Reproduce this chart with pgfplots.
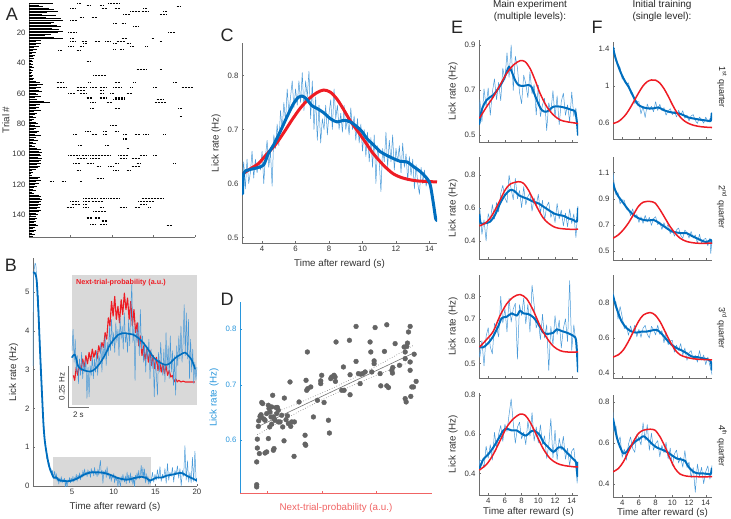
\documentclass[border=0pt]{standalone}
\usepackage{fontspec}
\setmainfont{Liberation Sans}
\usepackage{pgfplots}
\pgfplotsset{compat=1.18}
\usepackage{pgfplotstable}
\definecolor{thinb}{RGB}{72,153,216}
\definecolor{thickb}{RGB}{0,110,190}
\definecolor{myred}{RGB}{238,28,36}
\definecolor{bggray}{RGB}{217,217,217}
\definecolor{axc}{RGB}{110,110,110}
\definecolor{tlc}{RGB}{50,50,50}
\definecolor{dblue}{RGB}{40,150,220}
\definecolor{dred}{RGB}{240,100,100}
\definecolor{dgray}{RGB}{100,100,100}
\pgfplotsset{
 base/.style={scale only axis, anchor=south west, axis lines=left,
   axis line style={-, draw=axc, line width=0.45pt}, tick align=inside,
   major tick length=2.2pt, tick style={draw=axc, line width=0.45pt},
   tick label style={font=\fontsize{7.8}{8}\selectfont, text=tlc},
   label style={font=\fontsize{9.8}{10}\selectfont, text=tlc},
   /pgf/number format/assume math mode=true, enlargelimits=false},
 thinl/.style={color=thinb, line width=0.5pt, line join=round},
 thickl/.style={color=thickb, line width=2pt, smooth, line join=round, line cap=round},
 redl/.style={color=myred, line width=1.5pt, smooth},
 ef/.style={base, width=99pt, height=102pt, xmin=2.9, xmax=14.75, xtick={4,6,8,10,12,14}, xticklabels={}},
}
\pgfplotstableread{
t v
0.30 3.10
0.35 5.40
0.45 5.60
0.55 5.75
0.65 5.70
0.75 5.30
0.85 4.60
0.95 4.90
1.05 4.10
1.15 3.60
1.25 3.10
1.35 2.60
1.45 2.10
1.55 1.70
1.65 1.40
1.75 1.10
1.85 0.95
1.95 0.70
2.05 0.75
2.15 0.50
2.25 0.60
2.35 0.40
2.45 0.45
2.55 0.30
2.65 0.40
2.75 0.22
2.8 0.25
2.9 0.38
3.0 0.18
3.1 0.32
3.2 0.12
3.3 0.22
3.4 0.05
3.5 0.20
3.6 0.10
3.7 0.24
3.8 0.08
3.9 0.18
4.0 0.12
4.1 0.20
4.2 -0.04
4.3 0.15
4.4 -0.03
4.5 0.16
4.6 0.10
4.7 0.22
4.8 0.08
4.9 0.20
5.0 0.12
5.1 0.25
5.2 0.10
5.3 0.22
5.4 0.18
5.5 0.30
5.6 0.12
5.7 0.28
5.8 0.20
5.9 0.34
6.0 0.16
6.1 0.30
6.2 0.22
6.3 0.40
6.4 0.25
6.5 0.44
6.6 0.28
6.7 0.36
6.8 0.24
6.9 0.42
7.0 0.30
7.1 0.38
7.2 0.22
7.3 0.45
7.4 0.32
7.5 0.40
7.6 0.26
7.7 0.48
7.8 0.30
7.9 0.36
8.0 0.24
8.1 0.44
8.2 0.28
8.3 0.50
8.4 0.66
8.5 0.30
8.6 0.40
8.7 0.07
8.8 0.38
8.9 0.30
9.0 0.42
9.1 0.22
9.2 0.50
9.3 0.26
9.4 0.34
9.5 0.18
9.6 0.30
9.7 0.12
9.8 0.28
9.9 0.20
10.0 0.32
10.1 0.08
10.2 0.26
10.3 0.14
10.4 0.22
10.5 -0.03
10.6 0.20
10.7 0.10
10.8 -0.02
10.9 0.24
11.0 0.12
11.1 0.30
11.2 0.18
11.3 0.10
11.4 0.26
11.5 0.06
11.6 0.36
11.7 0.14
11.8 0.28
11.9 0.08
12.0 0.34
12.1 0.12
12.2 0.25
12.3 0.04
12.4 0.22
12.5 -0.02
12.6 0.28
12.7 0.16
12.8 0.34
12.9 0.20
13.0 0.40
13.1 0.18
13.2 0.30
13.3 0.53
13.4 0.22
13.5 0.48
13.6 0.20
13.7 0.44
13.8 0.08
13.9 0.32
14.0 0.12
14.1 0.26
14.2 0.05
14.3 0.18
14.4 0.07
14.5 0.15
14.65 0.35
14.8 0.10
14.95 0.30
15.1 0.15
15.25 0.42
15.4 0.18
15.55 0.50
15.7 0.12
15.85 0.30
16.0 0.20
16.15 0.45
16.3 0.07
16.45 0.58
16.6 0.15
16.75 0.35
16.9 0.25
17.05 0.48
17.2 0.10
17.35 0.40
17.5 0.30
17.65 0.52
17.8 0.20
17.95 0.45
18.1 0.0
18.25 0.40
18.4 0.25
18.55 1.04
18.7 0.15
18.85 0.65
19.0 0.10
19.15 0.35
19.3 0.08
19.45 0.74
19.6 0.12
19.75 0.90
19.9 0.10
20.0 0.20
}\Bthin
\pgfplotstableread{
t v
0.30 5.50
0.50 5.50
0.74 5.31
0.94 4.54
1.14 3.51
1.34 2.56
1.55 1.62
1.70 1.20
1.87 0.93
2.15 0.59
2.40 0.40
2.60 0.30
2.80 0.21
3.08 0.225
3.39 0.154
3.86 0.133
4.48 0.123
4.95 0.138
5.42 0.174
5.89 0.225
6.36 0.286
6.83 0.327
7.14 0.347
7.61 0.357
8.08 0.353
8.55 0.347
9.02 0.327
9.49 0.296
9.96 0.255
10.42 0.211
10.89 0.184
11.52 0.164
11.98 0.174
12.45 0.205
12.92 0.225
13.39 0.239
13.70 0.219
14.01 0.194
14.32 0.140
14.60 0.16
15.20 0.22
15.80 0.22
16.40 0.27
17.20 0.30
18.00 0.34
18.50 0.30
18.80 0.26
19.40 0.20
20.00 0.14
}\Bthick
\begin{document}
\begin{tikzpicture}
\useasboundingbox (0,0) rectangle (731pt,-519pt);
% ---------------- A ----------------
\begin{axis}[base, at={(29pt,-237pt)}, width=166pt, height=234pt,
  xmin=0, xmax=20, ymin=-154.5, ymax=-0.5, xtick={0,5,10,15,20}, xticklabels={},
  ytick={-140,-120,-100,-80,-60,-40,-20}, yticklabels={140,120,100,80,60,40,20},
  ylabel={Trial \#}, ylabel shift=-4pt]
\addplot[xcomb, black, line width=0.95pt] table[row sep=\\] {x y\\
2.9 -1\\ 1.2 -2\\ 1.7 -3\\ 2.4 -4\\ 3.0 -5\\ 3.5 -6\\ 2.2 -7\\ 1.6 -8\\ 3.2 -9\\ 2.0 -10\\
3.8 -11\\ 4.1 -12\\ 3.0 -13\\ 2.6 -14\\ 3.4 -15\\ 3.9 -16\\ 2.8 -17\\ 3.6 -18\\ 4.1 -19\\ 3.5 -20\\
2.7 -21\\ 1.9 -22\\ 3.0 -23\\ 4.1 -24\\ 1.5 -25\\ 0.9 -26\\ 1.4 -27\\ 0.8 -28\\ 1.2 -29\\ 0.6 -30\\
1.0 -31\\ 0.5 -32\\ 0.8 -33\\ 0.4 -34\\ 0.7 -35\\ 0.5 -36\\ 0.6 -37\\ 0.4 -38\\ 0.5 -39\\ 0.3 -40\\
0.5 -41\\ 0.4 -42\\ 0.6 -43\\ 0.3 -44\\ 0.5 -45\\ 0.4 -46\\ 0.3 -47\\ 0.5 -48\\ 0.4 -49\\ 0.6 -50\\
0.5 -51\\ 0.8 -52\\ 1.3 -53\\ 1.7 -54\\ 1.0 -55\\ 1.5 -56\\ 0.9 -57\\ 1.2 -58\\ 1.6 -59\\ 0.8 -60\\
1.1 -61\\ 1.4 -62\\ 0.7 -63\\ 1.0 -64\\ 1.8 -65\\ 2.5 -66\\ 1.3 -67\\ 0.9 -68\\ 1.2 -69\\ 0.8 -70\\
1.5 -71\\ 0.6 -72\\ 1.0 -73\\ 0.7 -74\\ 0.5 -75\\ 0.9 -76\\ 0.6 -77\\ 0.4 -78\\ 0.8 -79\\ 1.1 -80\\
0.7 -81\\ 1.3 -82\\ 0.9 -83\\ 0.6 -84\\ 1.2 -85\\ 1.0 -86\\ 0.7 -87\\ 1.4 -88\\ 0.9 -89\\ 0.6 -90\\
1.1 -91\\ 0.5 -92\\ 0.8 -93\\ 0.4 -94\\ 0.7 -95\\ 1.0 -96\\ 1.5 -97\\ 1.2 -98\\ 1.6 -99\\ 1.3 -100\\
1.5 -101\\ 1.1 -102\\ 1.6 -103\\ 1.4 -104\\ 1.2 -105\\ 1.5 -106\\ 1.0 -107\\ 1.3 -108\\ 1.1 -109\\ 0.8 -110\\
0.4 -111\\ 0.5 -112\\ 0.3 -113\\ 0.4 -114\\ 1.3 -115\\ 1.1 -116\\ 1.5 -117\\ 0.9 -118\\ 1.2 -119\\ 0.7 -120\\
1.0 -121\\ 0.6 -122\\ 0.5 -123\\ 0.8 -124\\ 0.4 -125\\ 0.6 -126\\ 1.2 -127\\ 1.5 -128\\ 1.3 -129\\ 1.6 -130\\
1.4 -131\\ 1.2 -132\\ 1.5 -133\\ 1.1 -134\\ 1.3 -135\\ 1.0 -136\\ 1.4 -137\\ 1.2 -138\\ 0.9 -139\\ 1.1 -140\\
0.8 -141\\ 1.0 -142\\ 0.7 -143\\ 0.9 -144\\ 0.6 -145\\ 0.8 -146\\ 1.1 -147\\ 0.7 -148\\ 0.5 -149\\ 0.8 -150\\
0.6 -151\\ 0.4 -152\\ 0.7 -153\\ 0.5 -154\\
};
\addplot[black, line width=1.1pt, dash pattern=on 0.6pt off 0.9pt, unbounded coords=jump] coordinates {
(5.82,-1)(6.35,-1)(0,inf)(9.56,-1)(10.96,-1)(0,inf)
(6.95,-2)(7.35,-2)(0,inf)(8.55,-2)(8.96,-2)(0,inf)
(17.8,-3)(18.2,-3)(0,inf)
(4.94,-4)(5.54,-4)(0,inf)(8.76,-4)(9.36,-4)(0,inf)(10.36,-4)(10.96,-4)(0,inf)(13.78,-4)(14.18,-4)(0,inf)
(12.17,-6)(13.37,-6)(0,inf)(13.57,-6)(14.38,-6)(0,inf)(16.18,-6)(16.59,-6)(0,inf)
(11.37,-8)(12.17,-8)(0,inf)(15.78,-8)(16.59,-8)(0,inf)
(6.14,-10)(6.55,-10)(0,inf)(7.55,-10)(8.15,-10)(0,inf)
(4.94,-12)(5.74,-12)(0,inf)
(10.16,-14)(10.56,-14)(0,inf)(11.16,-14)(11.57,-14)(0,inf)
(12.57,-16)(13.17,-16)(0,inf)
(4.74,-20)(5.74,-20)(0,inf)(16.79,-20)(17.59,-20)(0,inf)
(4.94,-24)(5.34,-24)(0,inf)(11.16,-24)(11.77,-24)(0,inf)(14.78,-24)(14.98,-24)(0,inf)
(4.94,-26)(5.54,-26)(0,inf)(6.35,-26)(6.95,-26)(0,inf)(7.95,-26)(8.55,-26)(0,inf)(9.16,-26)(9.76,-26)(0,inf)(10.56,-26)(11.57,-26)(0,inf)(15.78,-26)(15.98,-26)(0,inf)
(6.55,-27)(6.95,-27)(0,inf)(10.16,-27)(10.56,-27)(0,inf)(11.77,-27)(12.17,-27)(0,inf)
(4.74,-29)(5.34,-29)(0,inf)(6.14,-29)(6.55,-29)(0,inf)(12.17,-29)(12.57,-29)(0,inf)(13.98,-29)(14.18,-29)(0,inf)
(10.16,-31)(10.36,-31)(0,inf)(10.96,-31)(11.37,-31)(0,inf)
(3.53,-32)(3.94,-32)(0,inf)(5.74,-32)(6.14,-32)(0,inf)
(6.95,-39)(7.35,-39)(0,inf)
(12.97,-44)(14.18,-44)(0,inf)(15.78,-44)(15.98,-44)(0,inf)
(7.75,-48)(9.36,-48)(0,inf)
(3.33,-53)(4.14,-53)(0,inf)(7.15,-53)(7.35,-53)(0,inf)(10.36,-53)(10.96,-53)(0,inf)(12.57,-53)(12.77,-53)(0,inf)(17.39,-53)(17.79,-53)(0,inf)
(3.33,-56)(4.54,-56)(0,inf)(5.74,-56)(6.95,-56)(0,inf)(7.35,-56)(8.15,-56)(0,inf)(8.55,-56)(9.36,-56)(0,inf)(10.16,-56)(11.16,-56)(0,inf)(12.17,-56)(12.37,-56)(0,inf)(14.98,-56)(15.38,-56)(0,inf)(18.39,-56)(19.8,-56)(0,inf)
(5.74,-58)(6.75,-58)(0,inf)(8.55,-58)(8.96,-58)(0,inf)
(4.74,-60)(5.54,-60)(0,inf)(6.14,-60)(6.95,-60)(0,inf)(8.55,-60)(8.96,-60)(0,inf)(9.76,-60)(10.16,-60)(0,inf)(11.77,-60)(12.37,-60)(0,inf)
(6.95,-63)(7.55,-63)(0,inf)(8.55,-63)(9.36,-63)(0,inf)(10.36,-63)(11.57,-63)(0,inf)
(10.16,-64)(11.57,-64)(0,inf)(15.38,-64)(16.18,-64)(0,inf)
(7.35,-66)(7.95,-66)(0,inf)(9.36,-66)(9.96,-66)(0,inf)(15.18,-66)(16.59,-66)(0,inf)
(7.35,-70)(7.75,-70)(0,inf)(10.36,-70)(10.96,-70)(0,inf)(17.99,-70)(18.39,-70)(0,inf)
(18.19,-75)(18.39,-75)(0,inf)
(9.76,-81)(10.56,-81)(0,inf)
(6.75,-85)(7.35,-85)(0,inf)(8.96,-85)(9.36,-85)(0,inf)(10.36,-85)(10.76,-85)(0,inf)
(5.34,-87)(5.74,-87)(0,inf)(7.55,-87)(8.15,-87)(0,inf)(8.96,-87)(9.36,-87)(0,inf)(11.37,-87)(11.77,-87)(0,inf)(12.77,-87)(13.37,-87)(0,inf)(13.78,-87)(14.38,-87)(0,inf)(16.18,-87)(16.39,-87)(0,inf)
(11.37,-90)(11.77,-90)(0,inf)
(5.94,-94)(6.35,-94)(0,inf)(9.16,-94)(9.56,-94)(0,inf)
(11.77,-96)(11.97,-96)(0,inf)
(4.74,-101)(6.14,-101)(0,inf)(6.35,-101)(7.15,-101)(0,inf)(7.35,-101)(9.76,-101)(0,inf)(10.76,-101)(11.97,-101)(0,inf)(13.37,-101)(14.18,-101)(0,inf)(14.98,-101)(15.38,-101)(0,inf)
(5.74,-103)(6.95,-103)(0,inf)(7.35,-103)(8.55,-103)(0,inf)(10.96,-103)(11.77,-103)(0,inf)(12.37,-103)(13.37,-103)(0,inf)
(5.34,-106)(6.14,-106)(0,inf)(6.95,-106)(7.75,-106)(0,inf)(10.36,-106)(10.76,-106)(0,inf)(12.97,-106)(13.37,-106)(0,inf)(17.39,-106)(17.59,-106)(0,inf)
(8.15,-108)(8.55,-108)(0,inf)(9.56,-108)(10.16,-108)(0,inf)(12.37,-108)(13.37,-108)(0,inf)
(5.74,-111)(6.14,-111)(0,inf)(10.16,-111)(10.76,-111)(0,inf)(11.77,-111)(12.17,-111)(0,inf)
(8.15,-116)(8.96,-116)(0,inf)
(2.53,-118)(2.93,-118)(0,inf)(3.94,-118)(4.34,-118)(0,inf)(6.14,-118)(6.35,-118)(0,inf)
(6.55,-129)(8.35,-129)(0,inf)(8.55,-129)(9.36,-129)(0,inf)(9.56,-129)(10.96,-129)(0,inf)(13.57,-129)(16.18,-129)(0,inf)
(4.94,-131)(5.94,-131)(0,inf)(6.55,-131)(7.35,-131)(0,inf)(7.55,-131)(8.96,-131)(0,inf)(13.17,-131)(14.98,-131)(0,inf)
(5.14,-133)(6.14,-133)(0,inf)(6.55,-133)(6.95,-133)(0,inf)(13.37,-133)(14.18,-133)(0,inf)
(4.54,-135)(5.34,-135)(0,inf)(6.55,-135)(7.15,-135)(0,inf)(8.55,-135)(8.96,-135)(0,inf)(10.96,-135)(11.77,-135)(0,inf)(12.77,-135)(13.37,-135)(0,inf)(14.38,-135)(14.58,-135)(0,inf)
(7.75,-138)(9.36,-138)(0,inf)
(6.95,-142)(7.55,-142)(0,inf)(7.95,-142)(8.55,-142)(0,inf)
(8.76,-144)(9.36,-144)(0,inf)
(7.35,-146)(7.95,-146)(0,inf)(8.55,-146)(9.36,-146)(0,inf)
(16.59,-147)(17.19,-147)
};
\end{axis}
% ---------------- B ----------------
\begin{axis}[base, at={(33pt,-486pt)}, width=164pt, height=228pt,
  xmin=0.3, xmax=20, ymin=0, ymax=5.88, xtick={5,10,15,20}, ytick={0,1,2,3,4,5},
  xlabel={Time after reward (s)}, ylabel={Lick rate (Hz)}]
\addplot[fill=bggray, draw=none] coordinates {(2.75,0)(14.5,0)(14.5,0.75)(2.75,0.75)} --cycle;
\addplot[thinl] table {\Bthin};
\addplot[thickl, line width=1.8pt] table {\Bthick};
\end{axis}
% inset
\begin{axis}[scale only axis, anchor=south west, at={(72pt,-405pt)}, width=125pt, height=130pt,
  xmin=2.8, xmax=14.5, ymin=-0.08, ymax=0.71, hide axis, clip=false]
\addplot[fill=bggray, draw=none] coordinates {(2.8,-0.08)(14.5,-0.08)(14.5,0.71)(2.8,0.71)} --cycle;
\addplot[color=myred, line width=1.1pt, line join=round] coordinates {
(2.93,0.10)(3.05,0.07)(3.2,0.15)(3.35,0.10)(3.5,0.17)(3.65,0.13)(3.8,0.20)(3.95,0.15)(4.1,0.22)(4.25,0.17)
(4.4,0.24)(4.55,0.19)(4.7,0.26)(4.85,0.21)(5.0,0.25)(5.15,0.20)(5.3,0.28)(5.45,0.24)(5.6,0.30)(5.75,0.27)
(5.9,0.36)(6.05,0.32)(6.2,0.45)(6.35,0.40)(6.5,0.55)(6.65,0.46)(6.8,0.58)(6.95,0.44)(7.1,0.52)(7.25,0.42)
(7.4,0.56)(7.55,0.47)(7.7,0.60)(7.85,0.50)(8.0,0.57)(8.15,0.44)(8.3,0.55)(8.45,0.40)(8.6,0.50)(8.75,0.36)
(8.9,0.42)(9.05,0.28)(9.2,0.34)(9.35,0.22)(9.5,0.28)(9.65,0.19)(9.8,0.26)(9.95,0.18)(10.1,0.25)(10.25,0.16)
(10.4,0.22)(10.55,0.14)(10.7,0.21)(10.85,0.13)(11.0,0.19)(11.15,0.12)(11.3,0.17)(11.45,0.11)(11.6,0.16)(11.75,0.10)
(11.9,0.13)(12.05,0.09)(12.2,0.10)(12.35,0.06)(12.5,0.08)(12.65,0.06)(12.8,0.07)(13.0,0.06)(13.2,0.065)(13.4,0.06)
(13.6,0.06)(13.8,0.06)(14.0,0.06)(14.3,0.06)};
\addplot[thinl, restrict x to domain=2.8:14.5] table {\Bthin};
\addplot[thickl, line width=1.6pt, restrict x to domain=2.75:14.4] table {\Bthick};
\addplot[color=black!55, line width=0.6pt] coordinates {(2.43,0.158)(2.43,-0.092)(4.43,-0.092)};
\node[rotate=90, font=\fontsize{8}{8}\selectfont, text=tlc] at (axis cs:1.85,0.033) {0.25 Hz};
\node[font=\fontsize{8}{8}\selectfont, text=tlc] at (axis cs:3.4,-0.14) {2 s};
\node[anchor=west, font=\bfseries\fontsize{7.2}{8}\selectfont, text=myred] at (axis cs:2.85,0.665) {Next-trial-probability (a.u.)};
\end{axis}
% ---------------- C ----------------
\begin{axis}[base, at={(242pt,-243pt)}, width=195pt, height=200pt,
  xmin=2.8, xmax=14.45, ymin=0.49, ymax=0.86, xtick={4,6,8,10,12,14}, ytick={0.5,0.6,0.7,0.8},
  xlabel={Time after reward (s)}, ylabel={Lick rate (Hz)}]
\addplot[thinl] table[row sep=\\] {t v\\
2.8 0.60\\ 2.9 0.64\\ 3.0 0.59\\ 3.1 0.645\\ 3.2 0.60\\ 3.3 0.62\\ 3.4 0.66\\ 3.5 0.61\\ 3.6 0.645\\ 3.7 0.62\\
3.8 0.64\\ 3.9 0.625\\ 4.0 0.66\\ 4.1 0.60\\ 4.2 0.65\\ 4.3 0.68\\ 4.4 0.63\\ 4.5 0.66\\ 4.6 0.595\\ 4.7 0.69\\
4.8 0.665\\ 4.9 0.71\\ 5.0 0.67\\ 5.1 0.735\\ 5.2 0.70\\ 5.3 0.75\\ 5.4 0.715\\ 5.5 0.775\\ 5.6 0.73\\ 5.7 0.76\\
5.8 0.79\\ 5.9 0.74\\ 6.0 0.775\\ 6.1 0.745\\ 6.2 0.79\\ 6.3 0.75\\ 6.4 0.805\\ 6.5 0.735\\ 6.6 0.79\\ 6.7 0.76\\
6.8 0.808\\ 6.9 0.72\\ 7.0 0.79\\ 7.1 0.70\\ 7.2 0.76\\ 7.3 0.68\\ 7.4 0.745\\ 7.5 0.675\\ 7.6 0.72\\ 7.7 0.70\\
7.8 0.745\\ 7.9 0.69\\ 8.0 0.73\\ 8.1 0.755\\ 8.2 0.70\\ 8.3 0.775\\ 8.4 0.72\\ 8.5 0.745\\ 8.6 0.70\\ 8.7 0.73\\
8.8 0.695\\ 8.9 0.745\\ 9.0 0.70\\ 9.1 0.72\\ 9.2 0.69\\ 9.3 0.74\\ 9.4 0.70\\ 9.5 0.725\\ 9.6 0.68\\ 9.7 0.72\\
9.8 0.675\\ 9.9 0.71\\ 10.0 0.66\\ 10.1 0.70\\ 10.2 0.65\\ 10.3 0.695\\ 10.4 0.64\\ 10.5 0.685\\ 10.6 0.63\\ 10.7 0.69\\
10.8 0.60\\ 10.9 0.67\\ 11.0 0.64\\ 11.1 0.585\\ 11.2 0.665\\ 11.3 0.64\\ 11.4 0.695\\ 11.5 0.63\\ 11.6 0.68\\ 11.7 0.64\\
11.8 0.69\\ 11.9 0.625\\ 12.0 0.665\\ 12.1 0.64\\ 12.2 0.67\\ 12.3 0.62\\ 12.4 0.675\\ 12.5 0.63\\ 12.6 0.655\\ 12.7 0.605\\
12.8 0.65\\ 12.9 0.615\\ 13.0 0.645\\ 13.1 0.59\\ 13.2 0.635\\ 13.3 0.60\\ 13.4 0.58\\ 13.5 0.63\\ 13.6 0.60\\ 13.7 0.625\\
13.8 0.595\\ 13.9 0.61\\ 14.0 0.60\\ 14.1 0.585\\ 14.2 0.575\\ 14.3 0.555\\ 14.4 0.54\\
};
\addplot[redl, line width=3pt] coordinates {(2.8,0.617)(3.28,0.627)(3.78,0.637)(4.27,0.654)(4.77,0.671)(5.27,0.693)(5.77,0.717)(6.27,0.739)(6.77,0.756)(7.27,0.768)(7.68,0.773)(8.08,0.769)(8.48,0.756)(8.87,0.737)(9.27,0.716)(9.85,0.691)(10.25,0.673)(10.6,0.657)(11.25,0.634)(11.84,0.618)(12.44,0.610)(13.24,0.605)(14.45,0.603)};
\addplot[thickl, line width=3pt] coordinates {(2.83,0.581)(2.9,0.619)(3.18,0.625)(3.68,0.629)(4.08,0.634)(4.38,0.656)(4.68,0.671)(5.08,0.696)(5.48,0.723)(5.88,0.748)(6.18,0.760)(6.38,0.762)(6.64,0.757)(6.98,0.744)(7.28,0.739)(7.68,0.731)(8.08,0.720)(8.48,0.714)(8.87,0.717)(9.27,0.714)(9.67,0.705)(9.97,0.696)(10.27,0.683)(10.67,0.671)(11.06,0.659)(11.46,0.652)(11.86,0.646)(12.26,0.641)(12.66,0.640)(13.06,0.631)(13.46,0.622)(13.86,0.609)(14.05,0.597)(14.25,0.56)(14.37,0.535)(14.45,0.532)};
\end{axis}
% ---------------- D ----------------
\begin{axis}[base, at={(240pt,-493pt)}, width=192pt, height=191pt,
  xmin=0, xmax=3.52, ymin=0.505, ymax=0.849, xtick={0.5,1.5,2.5}, xticklabels={}, ytick={0.6,0.7,0.8},
  x axis line style={-, draw=dred}, y axis line style={-, draw=dblue},
  xtick style={draw=dred}, ytick style={draw=dblue}, yticklabel style={text=dblue},
  xlabel={Next-trial-probability (a.u.)}, ylabel={Lick rate (Hz)},
  xlabel style={text=dred}, ylabel style={text=dblue}]
\addplot[only marks, mark=*, mark size=2.4pt, color=dgray, mark options={draw=dgray, fill=dgray}] coordinates {
(0.306,0.516)(0.306,0.520)(0.306,0.561)(0.318,0.586)(0.318,0.602)(0.336,0.625)(0.343,0.635)(0.367,0.643)(0.385,0.646)(0.398,0.641)
(0.398,0.668)(0.416,0.666)(0.440,0.638)(0.459,0.636)(0.355,0.576)(0.459,0.577)(0.489,0.579)(0.520,0.603)(0.544,0.624)(0.581,0.629)
(0.520,0.663)(0.532,0.657)(0.569,0.642)(0.581,0.660)(0.599,0.681)(0.612,0.642)(0.624,0.639)(0.642,0.636)(0.624,0.585)(0.612,0.582)
(0.661,0.659)(0.685,0.659)(0.703,0.654)(0.703,0.633)(0.734,0.633)(0.783,0.624)(0.807,0.599)(0.813,0.676)(0.869,0.644)(0.887,0.630)
(0.917,0.705)(0.930,0.625)(0.948,0.633)(0.991,0.571)(0.997,0.633)(1.083,0.669)(1.193,0.609)(1.193,0.593)(1.205,0.591)(1.211,0.708)
(1.223,0.690)(1.242,0.693)(1.235,0.759)(1.297,0.696)(1.346,0.642)(1.419,0.672)(1.480,0.702)(1.480,0.707)(1.498,0.717)(1.541,0.668)
(1.621,0.636)(1.639,0.613)(1.664,0.711)(1.682,0.714)(1.725,0.717)(1.743,0.714)(1.749,0.706)(1.761,0.777)(1.865,0.690)(1.896,0.732)
(1.908,0.690)(2.006,0.780)(2.018,0.682)(2.018,0.718)(2.128,0.742)(2.128,0.805)(2.171,0.720)(2.202,0.702)(2.214,0.719)(2.251,0.720)
(2.294,0.723)(2.385,0.777)(2.398,0.759)(2.416,0.723)(2.459,0.738)(2.459,0.743)(2.477,0.803)(2.569,0.720)(2.581,0.698)(2.648,0.760)
(2.691,0.808)(2.691,0.698)(2.722,0.695)(2.783,0.726)(2.795,0.721)(2.801,0.731)(2.844,0.774)(2.924,0.735)(3.009,0.768)(3.028,0.747)
(3.028,0.759)(3.028,0.675)(3.046,0.669)(3.058,0.769)(3.070,0.775)(3.089,0.795)(3.119,0.805)(3.119,0.741)(3.119,0.726)(3.131,0.679)
(3.150,0.696)(3.180,0.696)(3.193,0.755)(3.229,0.706)(0.489,0.648)(0.550,0.651)(0.673,0.648)(0.765,0.645)(0.844,0.637)};
\addplot[color=black!55, line width=0.6pt] coordinates {(0.318,0.624)(3.2,0.758)};
\addplot[color=black!55, line width=0.6pt, dotted, smooth] coordinates {(0.318,0.638)(1.0,0.664)(1.7,0.694)(2.4,0.728)(3.2,0.772)};
\addplot[color=black!55, line width=0.6pt, dotted, smooth] coordinates {(0.318,0.610)(1.0,0.6475)(1.7,0.682)(2.4,0.713)(3.2,0.744)};
\end{axis}
% ---------------- E ----------------
\begin{axis}[ef, at={(479pt,-142pt)}, ymin=0.469, ymax=0.922, ytick={0.5,0.7,0.9}, ylabel={Lick rate (Hz)}]
\addplot[thinl] table[row sep=\\] {t v\\
2.9 0.55\\ 3.0 0.657\\ 3.25 0.559\\ 3.5 0.705\\ 3.75 0.628\\ 4.0 0.709\\ 4.25 0.588\\ 4.5 0.691\\ 4.75 0.749\\ 5.0 0.657\\
5.25 0.734\\ 5.5 0.653\\ 5.75 0.797\\ 6.0 0.746\\ 6.25 0.865\\ 6.5 0.756\\ 6.75 0.90\\ 7.0 0.698\\ 7.25 0.85\\ 7.5 0.799\\
7.75 0.689\\ 8.0 0.639\\ 8.25 0.766\\ 8.5 0.728\\ 8.75 0.666\\ 9.0 0.781\\ 9.25 0.683\\ 9.5 0.724\\ 9.75 0.589\\ 10.0 0.721\\
10.25 0.582\\ 10.5 0.634\\ 10.75 0.663\\ 11.0 0.52\\ 11.25 0.643\\ 11.5 0.602\\ 11.75 0.697\\ 12.0 0.578\\ 12.25 0.674\\ 12.5 0.546\\
12.75 0.649\\ 13.0 0.686\\ 13.25 0.588\\ 13.5 0.634\\ 13.75 0.558\\ 14.0 0.691\\ 14.25 0.583\\ 14.5 0.62\\ 14.75 0.50\\
};
\addplot[thickl] coordinates {(2.94,0.549)(3.22,0.611)(3.82,0.656)(4.62,0.678)(5.22,0.707)(5.82,0.744)(6.22,0.781)(6.50,0.804)(6.82,0.781)(7.22,0.744)(7.62,0.722)(8.21,0.718)(8.81,0.722)(9.21,0.712)(9.81,0.656)(10.41,0.611)(11.01,0.604)(11.81,0.626)(12.61,0.626)(13.41,0.619)(14.01,0.611)(14.41,0.604)(14.61,0.559)(14.75,0.50)};
\addplot[redl] coordinates {(2.94,0.574)(3.82,0.626)(4.62,0.670)(5.42,0.722)(6.22,0.774)(7.02,0.811)(7.81,0.830)(8.41,0.826)(9.01,0.796)(9.61,0.744)(10.21,0.685)(11.01,0.626)(11.81,0.589)(12.61,0.567)(13.41,0.559)(14.61,0.552)(14.75,0.551)};
\end{axis}
\begin{axis}[ef, at={(479pt,-259pt)}, ymin=0.29, ymax=0.91, ytick={0.4,0.6,0.8}, ylabel={Lick rate (Hz)}]
\addplot[thinl] table[row sep=\\] {t v\\
2.9 0.60\\ 3.0 0.596\\ 3.25 0.44\\ 3.5 0.528\\ 3.75 0.40\\ 4.0 0.566\\ 4.25 0.520\\ 4.5 0.621\\ 4.75 0.533\\ 5.0 0.633\\
5.25 0.576\\ 5.5 0.689\\ 5.75 0.738\\ 6.0 0.661\\ 6.25 0.632\\ 6.5 0.80\\ 6.75 0.713\\ 7.0 0.651\\ 7.25 0.78\\ 7.5 0.656\\
7.75 0.706\\ 8.0 0.602\\ 8.25 0.730\\ 8.5 0.620\\ 8.75 0.670\\ 9.0 0.692\\ 9.25 0.581\\ 9.5 0.661\\ 9.75 0.615\\ 10.0 0.684\\
10.25 0.571\\ 10.5 0.647\\ 10.75 0.526\\ 11.0 0.609\\ 11.25 0.636\\ 11.5 0.543\\ 11.75 0.580\\ 12.0 0.512\\ 12.25 0.628\\ 12.5 0.534\\
12.75 0.587\\ 13.0 0.491\\ 13.25 0.569\\ 13.5 0.486\\ 13.75 0.594\\ 14.0 0.506\\ 14.25 0.564\\ 14.5 0.42\\ 14.75 0.612\\
};
\addplot[thickl] coordinates {(2.95,0.558)(3.10,0.507)(3.62,0.507)(4.22,0.517)(4.82,0.558)(5.42,0.628)(6.02,0.679)(6.62,0.709)(7.10,0.705)(7.62,0.679)(8.22,0.665)(8.82,0.653)(9.42,0.638)(10.02,0.628)(10.62,0.608)(11.22,0.588)(11.82,0.568)(12.42,0.558)(13.02,0.552)(13.62,0.537)(14.22,0.527)(14.62,0.517)(14.75,0.598)};
\addplot[redl] coordinates {(2.95,0.491)(3.62,0.507)(4.22,0.537)(4.82,0.588)(5.42,0.648)(6.02,0.709)(6.62,0.745)(7.62,0.76)(8.22,0.75)(8.82,0.709)(9.42,0.648)(10.02,0.588)(10.62,0.537)(11.22,0.507)(11.82,0.487)(12.42,0.477)(13.62,0.471)(14.75,0.471)};
\end{axis}
\begin{axis}[ef, at={(479pt,-378pt)}, height=103pt, ymin=0.436, ymax=0.895, ytick={0.5,0.6,0.7,0.8}, ylabel={Lick rate (Hz)}]
\addplot[thinl] table[row sep=\\] {t v\\
2.9 0.56\\ 3.0 0.528\\ 3.25 0.603\\ 3.5 0.49\\ 3.75 0.622\\ 4.0 0.660\\ 4.25 0.575\\ 4.5 0.543\\ 4.75 0.679\\ 5.0 0.661\\
5.25 0.619\\ 5.5 0.80\\ 5.75 0.681\\ 6.0 0.745\\ 6.25 0.642\\ 6.5 0.791\\ 6.75 0.685\\ 7.0 0.744\\ 7.25 0.769\\ 7.5 0.52\\
7.75 0.763\\ 8.0 0.715\\ 8.25 0.792\\ 8.5 0.677\\ 8.75 0.766\\ 9.0 0.641\\ 9.25 0.85\\ 9.5 0.761\\ 9.75 0.659\\ 10.0 0.691\\
10.25 0.607\\ 10.5 0.719\\ 10.75 0.614\\ 11.0 0.673\\ 11.25 0.47\\ 11.5 0.666\\ 11.75 0.585\\ 12.0 0.714\\ 12.25 0.630\\ 12.5 0.694\\
12.75 0.570\\ 13.0 0.658\\ 13.25 0.700\\ 13.5 0.598\\ 13.75 0.87\\ 14.0 0.559\\ 14.25 0.673\\ 14.5 0.588\\ 14.75 0.48\\
};
\addplot[thickl] coordinates {(2.94,0.573)(3.42,0.573)(4.02,0.592)(4.62,0.623)(5.22,0.668)(5.62,0.703)(6.22,0.709)(6.82,0.724)(7.42,0.714)(7.81,0.736)(8.21,0.724)(8.81,0.721)(9.41,0.706)(10.01,0.676)(10.61,0.638)(11.21,0.633)(11.81,0.638)(12.21,0.653)(12.81,0.645)(13.41,0.638)(14.21,0.623)(14.53,0.600)(14.75,0.464)};
\addplot[redl] coordinates {(2.94,0.573)(3.82,0.608)(4.62,0.645)(5.42,0.714)(6.22,0.767)(7.02,0.797)(7.81,0.808)(8.61,0.789)(9.41,0.736)(10.21,0.668)(11.01,0.615)(11.81,0.577)(12.61,0.558)(13.41,0.552)(14.75,0.552)};
\end{axis}
\begin{axis}[ef, at={(479pt,-495pt)}, ymin=0.29, ymax=0.81, ytick={0.4,0.6,0.8}, xticklabels={4,6,8,10,12,14}, ylabel={Lick rate (Hz)}, xlabel={Time after reward (s)}, xlabel style={yshift=3.5pt}]
\addplot[thinl] table[row sep=\\] {t v\\
2.9 0.43\\ 3.0 0.469\\ 3.25 0.463\\ 3.5 0.430\\ 3.75 0.539\\ 4.0 0.478\\ 4.25 0.546\\ 4.5 0.468\\ 4.75 0.609\\ 5.0 0.529\\
5.25 0.600\\ 5.5 0.644\\ 5.75 0.563\\ 6.0 0.650\\ 6.25 0.614\\ 6.5 0.70\\ 6.75 0.78\\ 7.0 0.658\\ 7.25 0.554\\ 7.5 0.636\\
7.75 0.661\\ 8.0 0.576\\ 8.25 0.611\\ 8.5 0.547\\ 8.75 0.667\\ 9.0 0.590\\ 9.25 0.71\\ 9.5 0.565\\ 9.75 0.637\\ 10.0 0.556\\
10.25 0.648\\ 10.5 0.548\\ 10.75 0.592\\ 11.0 0.477\\ 11.25 0.544\\ 11.5 0.68\\ 11.75 0.479\\ 12.0 0.62\\ 12.25 0.468\\ 12.5 0.579\\
12.75 0.520\\ 13.0 0.589\\ 13.25 0.473\\ 13.5 0.528\\ 13.75 0.440\\ 14.0 0.514\\ 14.25 0.528\\ 14.5 0.429\\ 14.65 0.35\\ 14.75 0.46\\
};
\addplot[thickl] coordinates {(2.94,0.424)(3.42,0.472)(4.02,0.498)(4.62,0.533)(5.22,0.576)(5.82,0.619)(6.22,0.628)(6.82,0.619)(7.42,0.619)(8.02,0.602)(8.54,0.593)(9.01,0.610)(9.41,0.619)(9.81,0.610)(10.21,0.593)(10.61,0.559)(11.21,0.533)(11.81,0.510)(12.41,0.533)(12.81,0.533)(13.33,0.510)(13.81,0.490)(14.21,0.472)(14.53,0.455)(14.69,0.386)(14.75,0.455)};
\addplot[redl] coordinates {(2.94,0.417)(3.82,0.447)(4.62,0.498)(5.42,0.567)(6.22,0.636)(7.02,0.679)(7.81,0.702)(8.41,0.697)(9.01,0.662)(9.81,0.593)(10.61,0.524)(11.41,0.476)(12.21,0.452)(13.01,0.441)(14.21,0.434)(14.75,0.434)};
\end{axis}
% ---------------- F ----------------
\begin{axis}[ef, at={(613pt,-139pt)}, height=97pt, ymin=0.43, ymax=1.47, ytick={0.6,1,1.4}]
\addplot[thinl] table[row sep=\\] {t v\\
2.9 1.42\\ 3.0 1.416\\ 3.25 1.264\\ 3.5 1.234\\ 3.75 1.194\\ 4.0 1.072\\ 4.25 1.081\\ 4.5 1.016\\ 4.75 1.033\\ 5.0 0.919\\
5.25 0.928\\ 5.5 0.811\\ 5.75 0.835\\ 6.0 0.828\\ 6.25 0.70\\ 6.5 0.779\\ 6.75 0.66\\ 7.0 0.805\\ 7.25 0.744\\ 7.5 0.781\\
7.75 0.722\\ 8.0 0.83\\ 8.25 0.736\\ 8.5 0.802\\ 8.75 0.735\\ 9.0 0.766\\ 9.25 0.686\\ 9.5 0.733\\ 9.75 0.755\\ 10.0 0.691\\
10.25 0.725\\ 10.5 0.667\\ 10.75 0.737\\ 11.0 0.687\\ 11.25 0.733\\ 11.5 0.652\\ 11.75 0.686\\ 12.0 0.624\\ 12.25 0.678\\ 12.5 0.691\\
12.75 0.628\\ 13.0 0.597\\ 13.25 0.665\\ 13.5 0.640\\ 13.75 0.600\\ 14.0 0.665\\ 14.25 0.612\\ 14.5 0.648\\ 14.75 0.66\\
};
\addplot[thickl] coordinates {(2.9,1.41)(3.14,1.317)(3.54,1.209)(3.94,1.119)(4.34,1.047)(4.74,0.993)(5.14,0.921)(5.54,0.849)(5.94,0.795)(6.53,0.769)(7.13,0.758)(7.73,0.758)(8.33,0.769)(8.93,0.741)(9.53,0.723)(10.13,0.712)(10.73,0.705)(11.32,0.686)(11.92,0.661)(12.52,0.650)(13.12,0.640)(13.72,0.632)(14.32,0.625)(14.60,0.625)(14.72,0.705)};
\addplot[redl] coordinates {(2.9,0.596)(3.5,0.615)(4.0,0.65)(4.5,0.70)(5.0,0.77)(5.5,0.85)(6.0,0.93)(6.5,1.0)(7.0,1.045)(7.5,1.063)(8.0,1.06)(8.5,1.03)(9.0,0.97)(9.5,0.89)(10.0,0.80)(10.5,0.72)(11.0,0.66)(11.5,0.62)(12.0,0.595)(12.5,0.578)(13.0,0.568)(13.5,0.561)(14.0,0.557)(14.75,0.553)};
\end{axis}
\begin{axis}[ef, at={(613pt,-260pt)}, height=103pt, ymin=0.43, ymax=1.22, ytick={0.5,0.7,0.9,1.1}]
\addplot[thinl] table[row sep=\\] {t v\\
2.9 1.10\\ 3.0 1.037\\ 3.25 0.931\\ 3.5 0.947\\ 3.75 0.860\\ 4.0 0.891\\ 4.25 0.889\\ 4.5 0.820\\ 4.75 0.822\\ 5.0 0.770\\
5.25 0.822\\ 5.5 0.758\\ 5.75 0.779\\ 6.0 0.718\\ 6.25 0.760\\ 6.5 0.711\\ 6.75 0.772\\ 7.0 0.722\\ 7.25 0.758\\ 7.5 0.696\\
7.75 0.746\\ 8.0 0.762\\ 8.25 0.701\\ 8.5 0.722\\ 8.75 0.664\\ 9.0 0.716\\ 9.25 0.669\\ 9.5 0.706\\ 9.75 0.632\\ 10.0 0.664\\
10.25 0.613\\ 10.5 0.661\\ 10.75 0.675\\ 11.0 0.621\\ 11.25 0.596\\ 11.5 0.660\\ 11.75 0.639\\ 12.0 0.598\\ 12.25 0.649\\ 12.5 0.598\\
12.75 0.622\\ 13.0 0.559\\ 13.25 0.627\\ 13.5 0.559\\ 13.75 0.586\\ 14.0 0.597\\ 14.25 0.539\\ 14.5 0.597\\ 14.6 0.48\\ 14.75 0.58\\
};
\addplot[thickl] coordinates {(2.9,1.02)(3.14,0.969)(3.54,0.918)(4.14,0.867)(4.74,0.815)(5.34,0.777)(5.94,0.751)(6.53,0.738)(7.13,0.733)(7.73,0.738)(8.13,0.726)(8.73,0.700)(9.33,0.674)(9.93,0.649)(10.53,0.641)(11.12,0.636)(11.72,0.636)(12.32,0.615)(12.92,0.597)(13.52,0.579)(14.12,0.567)(14.60,0.585)(14.72,0.559)};
\addplot[redl] coordinates {(2.9,0.597)(3.54,0.623)(4.14,0.662)(4.74,0.713)(5.34,0.777)(5.94,0.841)(6.53,0.874)(7.33,0.879)(7.93,0.867)(8.53,0.815)(9.13,0.751)(9.73,0.687)(10.33,0.636)(10.93,0.597)(11.72,0.572)(12.92,0.559)(14.75,0.559)};
\end{axis}
\begin{axis}[ef, at={(613pt,-378pt)}, height=103pt, ymin=0.37, ymax=0.96, ytick={0.4,0.6,0.8}]
\addplot[thinl] table[row sep=\\] {t v\\
2.9 0.87\\ 3.0 0.814\\ 3.25 0.806\\ 3.5 0.707\\ 3.75 0.78\\ 4.0 0.721\\ 4.25 0.653\\ 4.5 0.670\\ 4.75 0.615\\ 5.0 0.668\\
5.25 0.627\\ 5.5 0.673\\ 5.75 0.606\\ 6.0 0.649\\ 6.25 0.603\\ 6.5 0.656\\ 6.75 0.672\\ 7.0 0.621\\ 7.25 0.599\\ 7.5 0.666\\
7.75 0.647\\ 8.0 0.617\\ 8.25 0.673\\ 8.5 0.620\\ 8.75 0.642\\ 9.0 0.572\\ 9.25 0.634\\ 9.5 0.561\\ 9.75 0.581\\ 10.0 0.586\\
10.25 0.518\\ 10.5 0.558\\ 10.75 0.528\\ 11.0 0.567\\ 11.25 0.501\\ 11.5 0.542\\ 11.75 0.471\\ 12.0 0.515\\ 12.25 0.527\\ 12.5 0.476\\
12.75 0.499\\ 13.0 0.461\\ 13.25 0.527\\ 13.5 0.472\\ 13.75 0.502\\ 14.0 0.447\\ 14.25 0.490\\ 14.5 0.440\\ 14.75 0.39\\
};
\addplot[thickl] coordinates {(2.9,0.845)(3.14,0.798)(3.54,0.741)(3.94,0.693)(4.54,0.655)(5.14,0.636)(5.74,0.630)(6.33,0.636)(6.93,0.636)(7.53,0.642)(8.13,0.646)(8.73,0.623)(9.33,0.589)(9.93,0.560)(10.53,0.541)(11.12,0.528)(11.72,0.512)(12.32,0.493)(12.92,0.490)(13.52,0.484)(14.12,0.478)(14.60,0.465)(14.72,0.417)};
\addplot[redl] coordinates {(2.9,0.49)(3.54,0.503)(4.14,0.531)(4.74,0.579)(5.34,0.636)(5.94,0.693)(6.53,0.731)(7.33,0.745)(7.93,0.731)(8.53,0.693)(9.13,0.636)(9.73,0.579)(10.33,0.531)(10.93,0.503)(11.72,0.488)(12.92,0.478)(14.75,0.474)};
\end{axis}
\begin{axis}[ef, at={(613pt,-497pt)}, ymin=0.337, ymax=0.835, ytick={0.4,0.6,0.8}, xticklabels={4,6,8,10,12,14}, xlabel={Time after reward (s)}, xlabel style={yshift=4.5pt}]
\addplot[thinl] table[row sep=\\] {t v\\
2.9 0.75\\ 3.0 0.655\\ 3.25 0.684\\ 3.5 0.601\\ 3.75 0.631\\ 4.0 0.531\\ 4.25 0.571\\ 4.5 0.517\\ 4.75 0.595\\ 5.0 0.630\\
5.25 0.575\\ 5.5 0.555\\ 5.75 0.643\\ 6.0 0.625\\ 6.25 0.591\\ 6.5 0.70\\ 6.75 0.613\\ 7.0 0.69\\ 7.25 0.565\\ 7.5 0.649\\
7.75 0.566\\ 8.0 0.598\\ 8.25 0.612\\ 8.5 0.533\\ 8.75 0.589\\ 9.0 0.554\\ 9.25 0.604\\ 9.5 0.523\\ 9.75 0.576\\ 10.0 0.489\\
10.25 0.547\\ 10.5 0.566\\ 10.75 0.503\\ 11.0 0.531\\ 11.25 0.483\\ 11.5 0.564\\ 11.75 0.482\\ 12.0 0.507\\ 12.25 0.431\\ 12.5 0.481\\
12.75 0.36\\ 13.0 0.498\\ 13.25 0.437\\ 13.5 0.482\\ 13.75 0.402\\ 14.0 0.461\\ 14.25 0.489\\ 14.5 0.424\\ 14.75 0.491\\
};
\addplot[thickl] coordinates {(2.9,0.72)(3.02,0.696)(3.34,0.631)(3.74,0.582)(4.14,0.550)(4.54,0.558)(4.94,0.582)(5.54,0.607)(6.13,0.623)(6.53,0.634)(6.93,0.623)(7.53,0.598)(8.13,0.579)(8.73,0.569)(9.33,0.558)(9.93,0.541)(10.53,0.525)(11.12,0.520)(11.52,0.514)(11.92,0.485)(12.52,0.460)(13.12,0.452)(13.72,0.452)(14.32,0.449)(14.60,0.449)(14.72,0.476)};
\addplot[redl] coordinates {(2.9,0.46)(3.54,0.476)(4.14,0.509)(4.74,0.558)(5.34,0.607)(5.94,0.647)(6.53,0.663)(7.33,0.668)(7.93,0.663)(8.53,0.631)(9.13,0.582)(9.73,0.525)(10.33,0.476)(10.93,0.449)(11.72,0.439)(12.92,0.436)(14.75,0.436)};
\end{axis}
% ---------------- text ----------------
\begin{scope}[every node/.style={text=black!85}]
\node[font=\fontsize{18}{18}\selectfont] at (12pt,-14pt) {A};
\node[font=\fontsize{18}{18}\selectfont] at (11pt,-265pt) {B};
\node[font=\fontsize{18}{18}\selectfont] at (227pt,-35pt) {C};
\node[font=\fontsize{18}{18}\selectfont] at (227pt,-299pt) {D};
\node[font=\fontsize{18}{18}\selectfont] at (457pt,-27pt) {E};
\node[font=\fontsize{18}{18}\selectfont] at (597pt,-27pt) {F};
\node[align=center, font=\fontsize{10}{12}\selectfont] at (530pt,-11pt) {Main experiment\\(multiple levels):};
\node[align=center, font=\fontsize{10}{12}\selectfont] at (662pt,-11pt) {Initial training\\(single level):};
\node[rotate=-90, font=\fontsize{9}{9}\selectfont] at (722pt,-87pt) {1\textsuperscript{st} quarter};
\node[rotate=-90, font=\fontsize{9}{9}\selectfont] at (722pt,-207pt) {2\textsuperscript{nd} quarter};
\node[rotate=-90, font=\fontsize{9}{9}\selectfont] at (722pt,-328pt) {3\textsuperscript{rd} quarter};
\node[rotate=-90, font=\fontsize{9}{9}\selectfont] at (722pt,-446pt) {4\textsuperscript{th} quarter};
\end{scope}
\end{tikzpicture}
\end{document}
